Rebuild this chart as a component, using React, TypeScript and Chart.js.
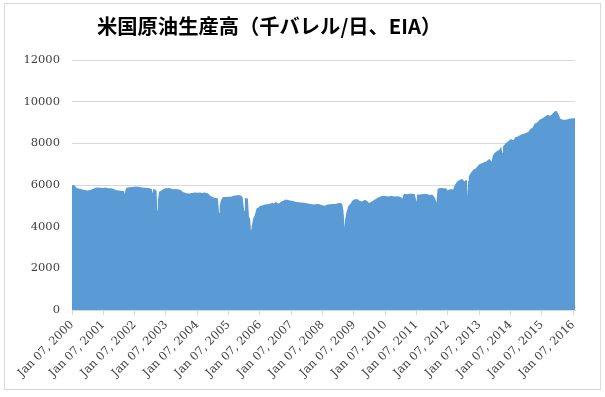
import React, { useEffect, useRef } from "react";
import { Chart, registerables } from "chart.js";

Chart.register(...registerables);

const TITLE = "米国原油生産高（千バレル/日、EIA）";

const weekDates = [
  "2000-01-07", "2000-02-04", "2000-03-03", "2000-04-07", "2000-05-05", "2000-06-02", "2000-07-07", "2000-08-04", "2000-09-01", "2000-10-06", "2000-11-03", "2000-12-01",
  "2001-01-05", "2001-02-02", "2001-03-02", "2001-04-06", "2001-05-04", "2001-06-01", "2001-07-06", "2001-08-03", "2001-09-07", "2001-09-14", "2001-09-21", "2001-10-05", "2001-11-02", "2001-12-07",
  "2002-01-04", "2002-02-01", "2002-03-01", "2002-04-05", "2002-05-03", "2002-06-07", "2002-07-05", "2002-07-26", "2002-08-02", "2002-08-16", "2002-09-06", "2002-09-20", "2002-09-27", "2002-10-04", "2002-10-11", "2002-10-18", "2002-11-01", "2002-12-06",
  "2003-01-03", "2003-02-07", "2003-03-07", "2003-04-04", "2003-05-02", "2003-06-06", "2003-07-04", "2003-07-18", "2003-08-08", "2003-09-05", "2003-10-03", "2003-11-07", "2003-12-05",
  "2004-01-09", "2004-02-06", "2004-03-05", "2004-04-02", "2004-05-07", "2004-06-04", "2004-07-02", "2004-08-06", "2004-09-03", "2004-09-17", "2004-09-24", "2004-10-08", "2004-10-22", "2004-11-05", "2004-12-03",
  "2005-01-07", "2005-02-04", "2005-03-04", "2005-04-01", "2005-05-06", "2005-06-03", "2005-06-17", "2005-07-08", "2005-07-15", "2005-08-05", "2005-08-19", "2005-09-02", "2005-09-09", "2005-09-16", "2005-09-23", "2005-09-30", "2005-10-07", "2005-10-21", "2005-11-04", "2005-11-18", "2005-12-02", "2005-12-16",
  "2006-01-06", "2006-02-03", "2006-03-03", "2006-04-07", "2006-05-05", "2006-06-02", "2006-06-16", "2006-07-07", "2006-08-04", "2006-08-18", "2006-09-08", "2006-10-06", "2006-11-03", "2006-12-01",
  "2007-01-05", "2007-02-02", "2007-03-02", "2007-04-06", "2007-05-04", "2007-06-01", "2007-07-06", "2007-08-03", "2007-09-07", "2007-10-05", "2007-11-02", "2007-12-07",
  "2008-01-04", "2008-02-01", "2008-03-07", "2008-04-04", "2008-05-02", "2008-06-06", "2008-07-04", "2008-08-01", "2008-08-22", "2008-08-29", "2008-09-05", "2008-09-12", "2008-09-19", "2008-09-26", "2008-10-10", "2008-10-31", "2008-11-28", "2008-12-19",
  "2009-01-09", "2009-02-13", "2009-03-13", "2009-04-10", "2009-05-15", "2009-06-12", "2009-07-03", "2009-07-24", "2009-08-21", "2009-09-18", "2009-10-16", "2009-11-13", "2009-12-11",
  "2010-01-08", "2010-02-19", "2010-03-19", "2010-04-16", "2010-05-21", "2010-06-18", "2010-07-16", "2010-07-23", "2010-08-06", "2010-08-20", "2010-09-17", "2010-10-15", "2010-11-19", "2010-12-17",
  "2011-01-07", "2011-01-14", "2011-02-11", "2011-03-11", "2011-04-15", "2011-05-13", "2011-06-17", "2011-07-08", "2011-07-29", "2011-08-12", "2011-08-26", "2011-09-09", "2011-09-23", "2011-10-21", "2011-11-18", "2011-12-16",
  "2012-01-06", "2012-01-27", "2012-02-24", "2012-03-09", "2012-03-30", "2012-04-27", "2012-05-25", "2012-06-22", "2012-07-20", "2012-08-03", "2012-08-17", "2012-08-24", "2012-08-31", "2012-09-07", "2012-09-28", "2012-11-02", "2012-11-30",
  "2013-01-04", "2013-01-25", "2013-02-22", "2013-03-29", "2013-05-03", "2013-05-31", "2013-06-14", "2013-07-05", "2013-08-02", "2013-08-30", "2013-09-20", "2013-10-04", "2013-10-11", "2013-11-15", "2013-12-13",
  "2014-01-10", "2014-02-07", "2014-03-07", "2014-04-04", "2014-05-09", "2014-06-06", "2014-07-04", "2014-08-01", "2014-08-29", "2014-09-19", "2014-10-17", "2014-11-14", "2014-12-12",
  "2015-01-09", "2015-02-06", "2015-03-13", "2015-04-10", "2015-05-01", "2015-06-05", "2015-06-26", "2015-07-17", "2015-08-14", "2015-09-11", "2015-10-16", "2015-11-13", "2015-12-11",
  "2016-01-08", "2016-01-29",
];

const production = [
  6000, 5990, 5860, 5820, 5790, 5760, 5740, 5760, 5800, 5870, 5880, 5870,
  5860, 5880, 5850, 5840, 5820, 5760, 5740, 5720, 5700, 5550, 5760, 5870, 5890, 5900,
  5920, 5930, 5910, 5880, 5870, 5860, 5850, 5800, 5600, 5820, 5780, 5700, 4780, 5650, 5300, 5680, 5700, 5800,
  5840, 5860, 5830, 5800, 5810, 5780, 5750, 5680, 5640, 5600, 5590, 5620, 5640,
  5630, 5640, 5620, 5640, 5600, 5500, 5420, 5380, 5360, 4670, 5000, 5250, 5380, 5420, 5430,
  5440, 5440, 5480, 5500, 5520, 5480, 5420, 4750, 5380, 5360, 5340, 4430, 4450, 4300, 3820, 3900, 4110, 4400, 4510, 4700, 4910, 4900,
  5000, 5020, 5060, 5080, 5100, 5160, 5100, 5180, 5120, 5110, 5200, 5250, 5300, 5280,
  5250, 5230, 5180, 5170, 5160, 5150, 5120, 5100, 5080, 5070, 5090, 5080,
  5030, 5000, 5060, 5080, 5090, 5090, 5120, 5140, 5100, 4970, 4800, 4500, 3930, 4330, 4660, 4970, 5100, 5250,
  5300, 5330, 5250, 5210, 5290, 5220, 5140, 5180, 5260, 5330, 5400, 5450, 5490,
  5470, 5450, 5480, 5450, 5460, 5450, 5400, 5330, 5520, 5580, 5560, 5580, 5580, 5560,
  5180, 5540, 5550, 5560, 5580, 5560, 5520, 5540, 5450, 5360, 5150, 5800, 5850, 5860, 5840, 5850,
  5740, 5800, 5800, 5780, 6010, 6170, 6250, 6290, 6170, 6250, 6200, 5450, 6200, 6410, 6570, 6750, 6810,
  6980, 7020, 7080, 7130, 7250, 7130, 7400, 7540, 7620, 7690, 7850, 7550, 7850, 8020, 8100,
  8210, 8150, 8300, 8330, 8430, 8450, 8500, 8540, 8700, 8740, 8950, 9000, 9130,
  9190, 9260, 9370, 9320, 9370, 9530, 9560, 9420, 9170, 9130, 9130, 9170, 9190,
  9210, 9200,
];

const tickYears = [2000, 2001, 2002, 2003, 2004, 2005, 2006, 2007, 2008, 2009, 2010, 2011, 2012, 2013, 2014, 2015, 2016];
const yMin = 0;
const yMax = 12000;
const yStep = 2000;

const dayNum = (s: string) => Date.parse(s + "T00:00:00Z") / 86400000;

export default function App() {
  const canvasRef = useRef<HTMLCanvasElement | null>(null);

  useEffect(() => {
    document.body.style.margin = "0";
    const canvas = canvasRef.current;
    if (!canvas) return;

    const points = weekDates.map((d, i) => ({ x: dayNum(d), y: production[i] }));

    const decor = {
      id: "decor",
      beforeDraw(chart: any) {
        const ctx = chart.ctx;
        ctx.save();
        ctx.fillStyle = "#ffffff";
        ctx.fillRect(0, 0, chart.width, chart.height);
        ctx.strokeStyle = "#d9d9d9";
        ctx.lineWidth = 1;
        ctx.strokeRect(4.5, 3.5, 596, 386);
        ctx.restore();
      },
      afterDraw(chart: any) {
        const ctx = chart.ctx;
        ctx.save();
        ctx.fillStyle = "#000000";
        ctx.font = "bold 20.3px 'Noto Sans CJK JP', sans-serif";
        ctx.textAlign = "left";
        ctx.textBaseline = "middle";
        ctx.fillText(TITLE, 97, 26);
        ctx.restore();
      },
    };

    const chart = new Chart(canvas, {
      type: "line",
      data: {
        datasets: [
          {
            data: points,
            fill: "origin",
            backgroundColor: "#5B9BD5",
            borderColor: "#5B9BD5",
            borderWidth: 0,
            pointRadius: 0,
            tension: 0,
          },
        ],
      },
      options: {
        animation: false,
        responsive: false,
        maintainAspectRatio: false,
        layout: { padding: { top: 60, left: 0, right: 30, bottom: 0 } },
        plugins: {
          legend: { display: false },
          title: { display: false },
          tooltip: { enabled: false },
        },
        scales: {
          x: {
            type: "linear",
            min: dayNum("2000-01-07"),
            max: dayNum(weekDates[weekDates.length - 1]),
            afterBuildTicks: (scale: any) => {
              scale.ticks = tickYears.map((y) => ({ value: dayNum(`${y}-01-07`) }));
            },
            afterFit: (scale: any) => {
              scale.height = 87;
            },
            grid: {
              drawOnChartArea: false,
              drawTicks: true,
              tickLength: 5,
              color: "#d9d9d9",
            },
            border: { display: true, color: "#d9d9d9" },
            ticks: {
              autoSkip: false,
              minRotation: 45,
              maxRotation: 45,
              padding: 3,
              color: "#404040",
              font: { family: "'DejaVu Serif', serif", size: 11.5 },
              callback: (v: any) => {
                const yr = new Date(Number(v) * 86400000).getUTCFullYear();
                return `Jan 07, ${yr}`;
              },
            },
          },
          y: {
            min: yMin,
            max: yMax,
            afterFit: (scale: any) => {
              scale.width = 72;
            },
            grid: { color: "#d9d9d9", drawTicks: false },
            border: { display: false },
            ticks: {
              stepSize: yStep,
              padding: 12,
              color: "#404040",
              font: { family: "'DejaVu Serif', serif", size: 11.5 },
              callback: (v: any) => String(v),
            },
          },
        },
      },
      plugins: [decor],
    });

    return () => chart.destroy();
  }, []);

  return (
    <div style={{ width: 605, height: 397, overflow: "hidden" }}>
      <canvas ref={canvasRef} width={605} height={397} style={{ display: "block" }} />
    </div>
  );
}
